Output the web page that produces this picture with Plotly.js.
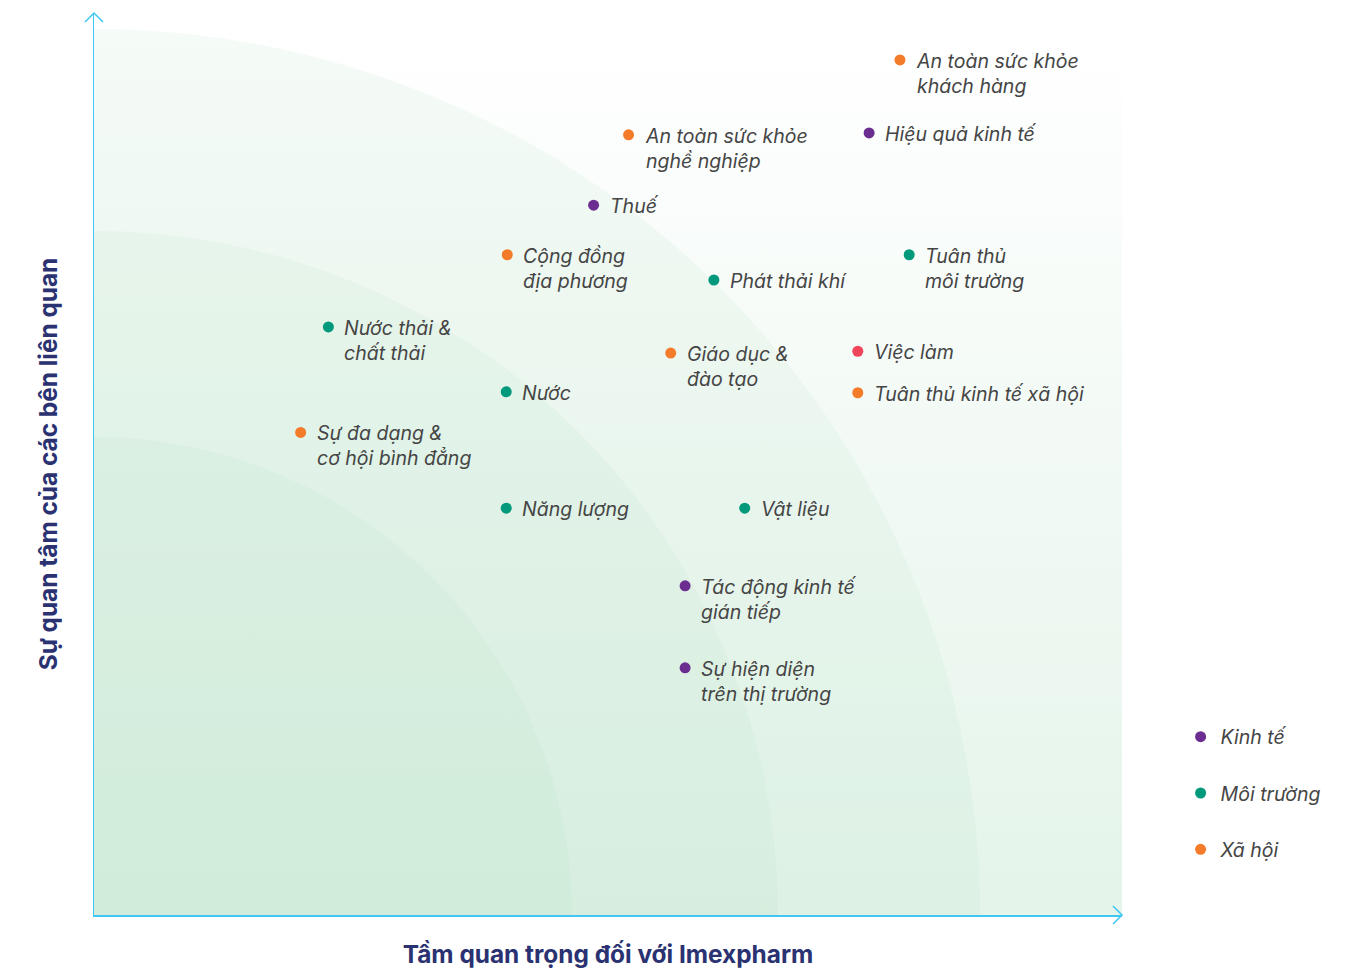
<!DOCTYPE html>
<html>
<head>
<meta charset="utf-8">
<script src="https://cdn.plot.ly/plotly-3.0.1.min.js"></script>
<style>html,body{margin:0;padding:0;background:#fff;}#chart{width:1366px;height:969px;}</style>
</head>
<body>
<div id="chart"></div>
<script>
// ---- data ----
const topics = [
  'An toàn sức khỏe<br>khách hàng',
  'Hiệu quả kinh tế',
  'An toàn sức khỏe<br>nghề nghiệp',
  'Thuế',
  'Cộng đồng<br>địa phương',
  'Phát thải khí',
  'Tuân thủ<br>môi trường',
  'Nước thải &<br>chất thải',
  'Giáo dục &<br>đào tạo',
  'Việc làm',
  'Tuân thủ kinh tế xã hội',
  'Nước',
  'Sự đa dạng &<br>cơ hội bình đẳng',
  'Năng lượng',
  'Vật liệu',
  'Tác động kinh tế<br>gián tiếp',
  'Sự hiện diện<br>trên thị trường'
];
const importance = [7.84, 7.54, 5.20, 4.86, 4.02, 6.03, 7.93, 2.28, 5.61, 7.43, 7.43, 4.01, 2.01, 4.01, 6.33, 5.75, 5.75];
const concern    = [9.48, 8.67, 8.65, 7.87, 7.32, 7.04, 7.32, 6.52, 6.23, 6.25, 5.79, 5.80, 5.35, 4.51, 4.51, 3.65, 2.74];
const groups = ['Xã hội','Kinh tế','Xã hội','Kinh tế','Xã hội','Môi trường','Môi trường','Môi trường','Xã hội','Xã hội','Xã hội','Môi trường','Xã hội','Môi trường','Môi trường','Kinh tế','Kinh tế'];
const categories = ['Kinh tế', 'Môi trường', 'Xã hội'];
const highlighted = ['Việc làm'];

// ---- styles ----
const catColors = {'Kinh tế': '#6c2d91', 'Môi trường': '#00997b', 'Xã hội': '#f47b2a'};
const highlightColor = '#f0455a';
const labelFont = {family: 'Inter, "Noto Sans", sans-serif', size: 19.5, color: '#454545', style: 'italic'};
const titleFont = {family: 'Inter, "Noto Sans", sans-serif', size: 24.4, color: '#2a3272', weight: 700};
const axisColor = '#3fc6f2';

const traces = [];
categories.forEach(function(cat){
  const xs = [], ys = [], ts = [];
  topics.forEach(function(t, i){
    if (groups[i] === cat && highlighted.indexOf(t) < 0) { xs.push(importance[i]); ys.push(concern[i]); ts.push(t); }
  });
  traces.push({type: 'scatter', mode: 'markers', name: cat, x: xs, y: ys, text: ts,
    legendgroup: cat, marker: {color: catColors[cat], size: 11}, hoverinfo: 'text'});
});
(function(){
  const xs = [], ys = [], ts = [];
  topics.forEach(function(t, i){ if (highlighted.indexOf(t) >= 0) { xs.push(importance[i]); ys.push(concern[i]); ts.push(t); } });
  traces.push({type: 'scatter', mode: 'markers', name: 'highlight', x: xs, y: ys, text: ts, showlegend: false,
    marker: {color: highlightColor, size: 11}, hoverinfo: 'text'});
})();

const annotations = topics.map(function(t, i){
  return {x: importance[i], y: concern[i], xref: 'x', yref: 'y', text: t, showarrow: false,
    xanchor: 'left', yanchor: 'top', align: 'left', xshift: 14, yshift: 13, font: labelFont};
});

// background rings (pixel radii converted to axis units)
const X_RANGE = [0, 10], Y_RANGE = [0, 10];
const PLOT_W = 1028, PLOT_H = 902;
const pxX = PLOT_W / (X_RANGE[1] - X_RANGE[0]);
const pxY = PLOT_H / (Y_RANGE[1] - Y_RANGE[0]);
const ringRadii = [886, 684, 478];
const shapes = ringRadii.map(function(r){
  return {type: 'circle', xref: 'x', yref: 'y', x0: -r / pxX, x1: r / pxX, y0: -r / pxY, y1: r / pxY,
    line: {width: 0}, fillcolor: 'rgba(176,222,192,0.12)', layer: 'between'};
});
// arrow heads
shapes.push({type: 'path', xref: 'paper', yref: 'paper', xsizemode: 'pixel', ysizemode: 'pixel', xanchor: 0, yanchor: 1,
  path: 'M -9,-9 L 0,0 L 9,-9', line: {color: axisColor, width: 1.5}, layer: 'above'});
shapes.push({type: 'path', xref: 'paper', yref: 'paper', xsizemode: 'pixel', ysizemode: 'pixel', xanchor: 1, yanchor: 0,
  path: 'M -9,9 L 0,0 L -9,-9', line: {color: axisColor, width: 1.5}, layer: 'above'});

const bgTop = (PLOT_H - 17) / pxY;
const gradSvg = '<svg xmlns="http://www.w3.org/2000/svg" width="100" height="100" preserveAspectRatio="none">' +
  '<defs><linearGradient id="g" x1="0" y1="0" x2="0" y2="1">' +
  '<stop offset="0" stop-color="#ffffff"/><stop offset="1" stop-color="#e4f4ea"/></linearGradient></defs>' +
  '<rect width="100" height="100" fill="url(#g)"/></svg>';
const images = [{source: 'data:image/svg+xml;charset=utf-8,' + encodeURIComponent(gradSvg),
  xref: 'x', yref: 'y', x: 0, y: bgTop, sizex: X_RANGE[1], sizey: bgTop, sizing: 'stretch',
  xanchor: 'left', yanchor: 'top', layer: 'below'}];

const layout = {
  width: 1366, height: 969,
  margin: {l: 94, r: 244, t: 13, b: 54},
  paper_bgcolor: '#ffffff', plot_bgcolor: 'rgba(0,0,0,0)',
  showlegend: true,
  legend: {x: 1.057, xanchor: 'left', y: 0.219, yanchor: 'top', font: labelFont,
    tracegroupgap: 28, traceorder: 'grouped', bgcolor: 'rgba(0,0,0,0)'},
  xaxis: {range: X_RANGE, showgrid: false, zeroline: false, showticklabels: false, ticks: '',
    showline: true, linecolor: axisColor, linewidth: 1.5, fixedrange: true,
    title: {text: 'Tầm quan trọng đối với Imexpharm', font: titleFont, standoff: 37}},
  yaxis: {range: Y_RANGE, showgrid: false, zeroline: false, showticklabels: false, ticks: '',
    showline: true, linecolor: axisColor, linewidth: 1.5, fixedrange: true,
    title: {text: 'Sự quan tâm của các bên liên quan', font: titleFont, standoff: 28}},
  shapes: shapes, annotations: annotations, images: images,
  font: {family: 'Inter, "Noto Sans", sans-serif'}
};

Plotly.newPlot('chart', traces, layout, {displayModeBar: false, staticPlot: true});
</script>
</body>
</html>
